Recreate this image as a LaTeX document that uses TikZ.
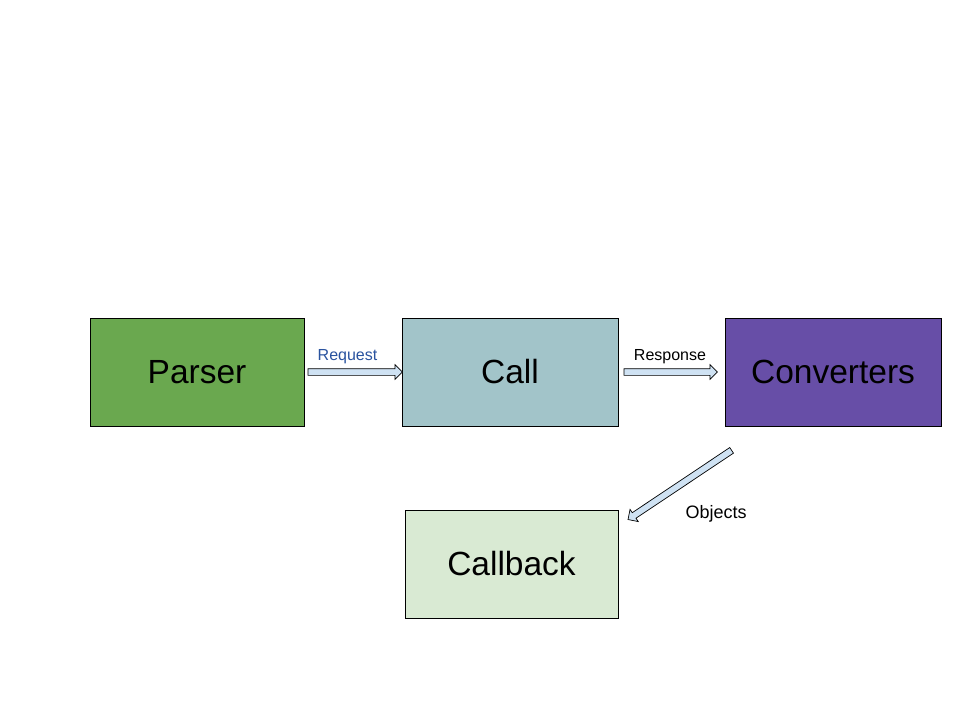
\documentclass[tikz,border=0pt]{standalone}
\usepackage{fontspec}
\setmainfont{Liberation Sans}
\usetikzlibrary{shapes.arrows,calc}
\definecolor{parsergreen}{HTML}{6AA84F}
\definecolor{callblue}{HTML}{A2C4C9}
\definecolor{convpurple}{HTML}{674EA7}
\definecolor{cbgreen}{HTML}{D9EAD3}
\definecolor{arrfill}{HTML}{CFE2F3}
\definecolor{reqblue}{HTML}{2A539F}
\tikzset{
  box/.style={draw=black, line width=0.8pt, minimum width=214pt, minimum height=108pt,
    inner sep=0pt, font=\fontsize{33.5}{38}\selectfont, text=black},
  blockarr/.style={single arrow, draw=black, fill=arrfill, line width=0.7pt,
    inner sep=0pt, minimum width=14pt, single arrow head extend=4pt,
    single arrow tip angle=90, text height=6pt, text depth=0pt, text width=0pt},
  lbl/.style={font=\fontsize{16}{18}\selectfont, inner sep=0pt}
}
\newcommand\blockarrow[2]{%
  \path let \p1=($(#2)-(#1)$), \n1={atan2(\y1,\x1)}, \n2={veclen(\x1,\y1)} in
    node[blockarr, minimum height=\n2, rotate=\n1] at ($(#1)!0.5!(#2)$) {};}
\begin{document}
\begin{tikzpicture}[x=1pt,y=-1pt]
\useasboundingbox (0,0) rectangle (960,720);
\fill[white] (0,0) rectangle (960,720);
\node[box, fill=parsergreen, minimum width=214pt] (parser) at (197,372) {Parser};
\node[box, fill=callblue, minimum width=216pt] (call) at (510,372) {Call};
\node[box, fill=convpurple, minimum width=216pt] (conv) at (833,372) {Converters};
\node[box, fill=cbgreen, minimum width=213pt] (cb) at (511.5,564) {Callback};
\coordinate (r1) at ($(parser.east)+(2,0)$);
\coordinate (r2) at ($(call.west)+(-1,0)$);
\coordinate (s1) at ($(call.east)+(4,0)$);
\coordinate (s2) at ($(conv.west)+(-9,0)$);
\coordinate (o1) at ($(conv.south)+(-100,23)$);
\coordinate (o2) at ($(cb.north east)+(11,9)$);
\blockarrow{r1}{r2}
\blockarrow{s1}{s2}
\blockarrow{o1}{o2}
\node[lbl, text=reqblue] (reqlbl) at (347.5,356.5) {Request};
\node[lbl] (resplbl) at (670,356.5) {Response};
\node[lbl, font=\fontsize{18}{20}\selectfont] (objlbl) at (716,514) {Objects};
\end{tikzpicture}
\end{document}
